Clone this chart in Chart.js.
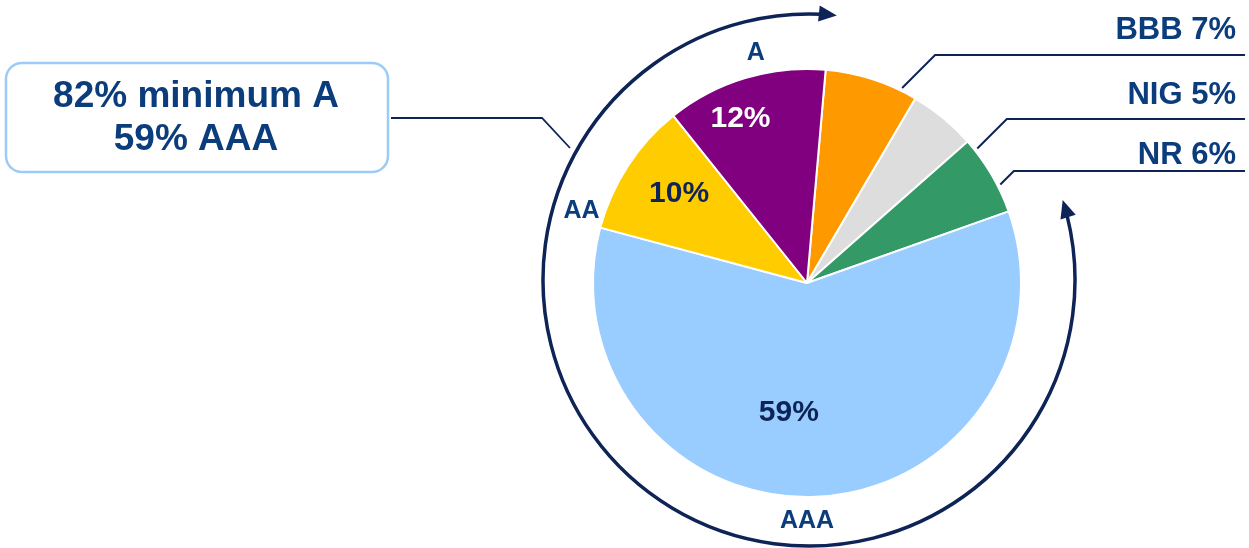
<!DOCTYPE html>
<html>
<head>
<meta charset="utf-8">
<script src="https://cdn.jsdelivr.net/npm/chart.js@4"></script>
<style>
  html, body { margin: 0; padding: 0; background: #fff; }
  #wrap { width: 1249px; height: 548px; position: relative; }
</style>
</head>
<body>
<div id="wrap"><canvas id="rating_pie"></canvas></div>
<script>
// rating split of the portfolio, clockwise from just right of 12 o'clock
var ratings = ['BBB', 'NIG', 'NR', 'AAA', 'AA', 'A'];
var shares = [7, 5, 6, 59, 10, 12];
var sliceColors = ['#FF9900', '#DDDDDD', '#339966', '#99CCFF', '#FFCC00', '#800080'];
var boxLines = ['82% minimum A', '59% AAA'];

var NAVY = '#0B3C7C';
var DARK = '#0E2456';
var FONT = '"Liberation Sans", Arial, sans-serif';

// point on a circle, angle in degrees clockwise from 12 o'clock
function polar(cx, cy, r, deg) {
    var a = (deg - 90) * Math.PI / 180;
    return { x: cx + r * Math.cos(a), y: cy + r * Math.sin(a) };
}

function arrowHead(ctx, tip, dirX, dirY, len, half) {
    var bx = tip.x - dirX * len, by = tip.y - dirY * len;
    ctx.beginPath();
    ctx.moveTo(tip.x, tip.y);
    ctx.lineTo(bx - dirY * half, by + dirX * half);
    ctx.lineTo(bx + dirY * half, by - dirX * half);
    ctx.closePath();
    ctx.fill();
}

var annotations = {
    id: 'annotations',
    afterDraw: function (chart) {
        var ctx = chart.ctx;
        var meta = chart.getDatasetMeta(0);
        var arc0 = meta.data[0];
        var cx = arc0.x, cy = arc0.y, R = arc0.outerRadius;
        ctx.save();

        // percentages inside the big slices
        var inner = { 'AAA': [188, 0.61, DARK], 'AA': [305, 0.73, DARK], 'A': [338, 0.83, '#ffffff'] };
        ctx.font = 'bold 30px ' + FONT;
        ctx.textAlign = 'center';
        ctx.textBaseline = 'middle';
        ratings.forEach(function (r, i) {
            if (!inner[r]) return;
            var p = polar(cx, cy, R * inner[r][1], inner[r][0]);
            ctx.fillStyle = inner[r][2];
            ctx.fillText(shares[i] + '%', p.x, p.y);
        });

        // rating names just outside the pie
        var outer = { 'AAA': 180, 'AA': 288, 'A': 347.5 };
        ctx.font = 'bold 25px ' + FONT;
        ctx.fillStyle = NAVY;
        Object.keys(outer).forEach(function (r) {
            var p = polar(cx, cy, R + 23, outer[r]);
            ctx.fillText(r, p.x, p.y + 1);
        });

        // leader lines and labels for the small slices
        var small = { 'BBB': [26, 55, 30], 'NIG': [51.7, 119, 95], 'NR': [63, 171, 155] };
        ctx.strokeStyle = DARK;
        ctx.lineWidth = 2;
        ctx.font = 'bold 31px ' + FONT;
        ctx.textAlign = 'right';
        ratings.forEach(function (r, i) {
            if (!small[r]) return;
            var s = polar(cx, cy, R + 3, small[r][0]);
            var y = small[r][1];
            ctx.beginPath();
            ctx.moveTo(s.x, s.y);
            ctx.lineTo(s.x + (s.y - y), y);
            ctx.lineTo(1245, y);
            ctx.stroke();
            ctx.fillStyle = NAVY;
            ctx.fillText(r + ' ' + shares[i] + '%', 1236, small[r][2]);
        });

        // double-headed ring from NR round to A
        var ax = cx + 2, ay = cy - 3, ar = 266;
        ctx.strokeStyle = DARK;
        ctx.fillStyle = DARK;
        ctx.lineWidth = 3.5;
        ctx.beginPath();
        ctx.arc(ax, ay, ar, (76 - 90) * Math.PI / 180, (363 - 90) * Math.PI / 180);
        ctx.stroke();
        var tipTop = polar(ax, ay, ar, 366);
        var aT = (366 - 90) * Math.PI / 180;
        arrowHead(ctx, tipTop, -Math.sin(aT), Math.cos(aT), 18, 8);
        var tipRight = polar(ax, ay, ar, 72.5);
        var aR = (72.5 - 90) * Math.PI / 180;
        arrowHead(ctx, tipRight, Math.sin(aR), -Math.cos(aR), 18, 8);

        // summary box on the left, tied to the ring
        ctx.strokeStyle = '#9DCBF7';
        ctx.lineWidth = 2.5;
        ctx.beginPath();
        ctx.roundRect(6, 63, 382, 109, 16);
        ctx.stroke();
        ctx.fillStyle = NAVY;
        ctx.textAlign = 'center';
        ctx.font = 'bold 37px ' + FONT;
        ctx.fillText(boxLines[0], 196, 97);
        ctx.fillText(boxLines[1], 196, 140);

        ctx.strokeStyle = DARK;
        ctx.lineWidth = 1.8;
        ctx.beginPath();
        ctx.moveTo(391, 118);
        ctx.lineTo(542, 118);
        ctx.lineTo(570, 148);
        ctx.stroke();

        ctx.restore();
    }
};

var ctx = document.getElementById('rating_pie').getContext('2d');
var chart = new Chart(ctx, {
    type: 'pie',
    data: {
        labels: ratings,
        datasets: [{
            data: shares,
            backgroundColor: sliceColors,
            borderColor: '#ffffff',
            borderWidth: 2
        }]
    },
    options: {
        responsive: true,
        maintainAspectRatio: false,
        animation: false,
        rotation: 5,
        layout: { padding: { left: 592, right: 227, top: 68, bottom: 50 } },
        plugins: {
            legend: { display: false },
            tooltip: { enabled: false }
        }
    },
    plugins: [annotations]
});
</script>
</body>
</html>
